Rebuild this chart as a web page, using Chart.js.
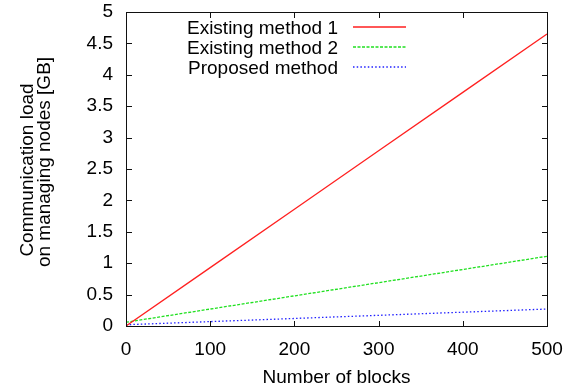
<!DOCTYPE html>
<html>
<head>
<meta charset="utf-8">
<script src="https://cdn.jsdelivr.net/npm/chart.js@4/dist/chart.umd.min.js"></script>
<style>
  html, body { margin: 0; padding: 0; background: #fff; }
  #wrap { width: 576px; height: 390px; }
</style>
</head>
<body>
<div id="wrap"><canvas id="c" width="576" height="390"></canvas></div>
<script>
// Communication load on managing nodes versus number of blocks
const blocks = [0, 100, 200, 300, 400, 500];
const existing1 = [0, 0.93, 1.86, 2.79, 3.72, 4.65];
const existing2 = [0.06, 0.27, 0.48, 0.69, 0.90, 1.11];
const proposed = [0.02, 0.07, 0.12, 0.17, 0.22, 0.27];
const seriesNames = ['Existing method 1', 'Existing method 2', 'Proposed method'];
const xTickLabels = ['0', '100', '200', '300', '400', '500'];
const yTickLabels = ['0', '0.5', '1', '1.5', '2', '2.5', '3', '3.5', '4', '4.5', '5'];
const xTitle = 'Number of blocks';
const yTitle = ['Communication load', 'on managing nodes [GB]'];

const lineColors = ['#ff2020', '#20e020', '#2020ff'];
const lineDashes = [[], [3, 1.5], [1.5, 2.2]];

const FONT = "'Liberation Sans', Arial, Helvetica, sans-serif";
Chart.defaults.font.family = FONT;
Chart.defaults.font.size = 19;
Chart.defaults.color = '#000';

const toPoints = ys => blocks.map((x, i) => ({ x: x, y: ys[i] }));

// gnuplot-like frame with inward, mirrored ticks, key and axis titles
const framePlugin = {
  id: 'frame',
  afterDraw(chart) {
    const { ctx, chartArea: a, scales } = chart;
    ctx.save();
    ctx.setLineDash([]);
    ctx.fillStyle = '#111';
    const L = Math.round(a.left), R = Math.round(a.right);
    const T = Math.round(a.top), B = Math.round(a.bottom);
    // frame
    ctx.fillRect(L, T, R - L + 1, 1);
    ctx.fillRect(L, B, R - L + 1, 1);
    ctx.fillRect(L, T, 1, B - T + 1);
    ctx.fillRect(R, T, 1, B - T + 1);
    // inward ticks on all four sides
    const tl = 5;
    scales.x.ticks.forEach(t => {
      const px = Math.round(scales.x.getPixelForValue(t.value));
      ctx.fillRect(px, B - tl, 1, tl);
      ctx.fillRect(px, T + 1, 1, tl);
    });
    scales.y.ticks.forEach(t => {
      const py = Math.round(scales.y.getPixelForValue(t.value));
      ctx.fillRect(L + 1, py, tl, 1);
      ctx.fillRect(R - tl, py, tl, 1);
    });

    ctx.font = '19px ' + FONT;

    // key: label right-aligned, sample segment to its right
    ctx.textAlign = 'right';
    ctx.textBaseline = 'alphabetic';
    const x0 = 353, x1 = 406;
    seriesNames.forEach((name, i) => {
      const ly = 27 + i * 20;
      ctx.fillStyle = '#000';
      ctx.fillText(name, 338, ly + 7);
      ctx.fillStyle = lineColors[i];
      const dash = lineDashes[i];
      if (!dash.length) {
        ctx.fillRect(x0, ly - 0.75, x1 - x0, 1.5);
      } else {
        for (let x = x0; x < x1; x += dash[0] + dash[1]) {
          ctx.fillRect(x, ly - 0.75, Math.min(dash[0], x1 - x), 1.5);
        }
      }
    });

    // x title
    ctx.fillStyle = '#000';
    ctx.textAlign = 'center';
    ctx.fillText(xTitle, (a.left + a.right) / 2, 383);

    // y title, two rotated lines
    const yLines = [{ x: 33, y: 170 }, { x: 50, y: 162 }];
    yTitle.forEach((txt, i) => {
      ctx.save();
      ctx.translate(yLines[i].x, yLines[i].y);
      ctx.rotate(-Math.PI / 2);
      ctx.textAlign = 'center';
      ctx.fillText(txt, 0, 0);
      ctx.restore();
    });
    ctx.restore();
  }
};

new Chart(document.getElementById('c'), {
  type: 'line',
  data: {
    datasets: seriesNames.map((name, i) => ({
      label: name,
      data: toPoints([existing1, existing2, proposed][i]),
      borderColor: lineColors[i],
      borderWidth: 1.3,
      borderDash: lineDashes[i],
      pointRadius: 0,
      fill: false
    }))
  },
  options: {
    responsive: false,
    animation: false,
    layout: { autoPadding: false, padding: { top: 12, right: 29, left: 0, bottom: 0 } },
    plugins: { legend: { display: false }, tooltip: { enabled: false } },
    scales: {
      x: {
        type: 'linear', min: 0, max: 500,
        afterBuildTicks: s => { s.ticks = xTickLabels.map(l => ({ value: parseFloat(l) })); },
        afterFit: s => { s.height = 64; s.paddingLeft = 0; s.paddingRight = 0; },
        grid: { display: false, drawTicks: false },
        border: { display: false },
        ticks: { padding: 12, maxRotation: 0, callback: (v, i) => xTickLabels[i] }
      },
      y: {
        type: 'linear', min: 0, max: 5,
        afterBuildTicks: s => { s.ticks = yTickLabels.map(l => ({ value: parseFloat(l) })); },
        afterFit: s => { s.width = 126; s.paddingTop = 0; s.paddingBottom = 0; },
        grid: { display: false, drawTicks: false },
        border: { display: false },
        ticks: { padding: 13, callback: (v, i) => yTickLabels[i] }
      }
    }
  },
  plugins: [framePlugin]
});
</script>
</body>
</html>
